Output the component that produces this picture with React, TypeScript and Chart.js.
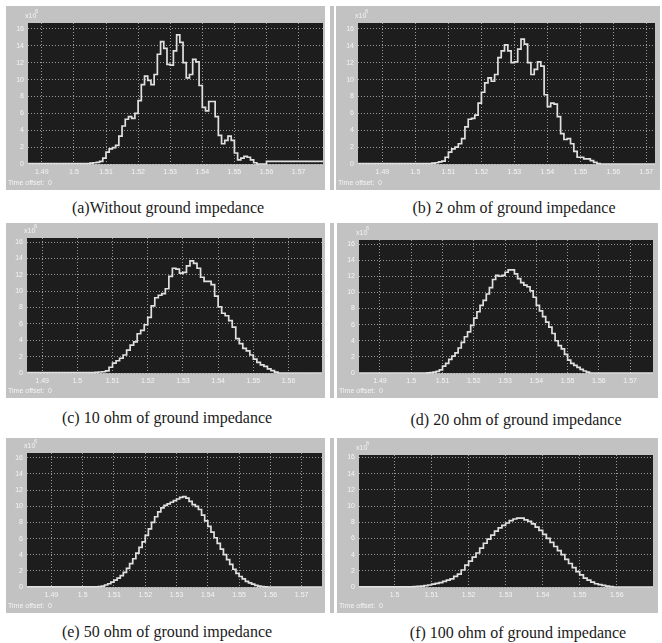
import React, { useEffect, useRef } from 'react';
import { Chart, registerables } from 'chart.js';
Chart.register(...registerables);

// sample instants (s)
const TIMES = [
  1.505, 1.506, 1.507, 1.508, 1.509, 1.51, 1.511, 1.512, 1.513, 1.514,
  1.515, 1.516, 1.517, 1.518, 1.519, 1.52, 1.521, 1.522, 1.523, 1.524,
  1.525, 1.526, 1.527, 1.528, 1.529, 1.53, 1.531, 1.532, 1.533, 1.534,
  1.535, 1.536, 1.537, 1.538, 1.539, 1.54, 1.541, 1.542, 1.543, 1.544,
  1.545, 1.546, 1.547, 1.548, 1.549, 1.55, 1.551, 1.552, 1.553, 1.554,
  1.555, 1.556, 1.557, 1.558, 1.559, 1.56, 1.561,
];
const EDGE_LEFT = 1.48;
const EDGE_RIGHT = 1.6;

// values in units of 10^6
const SERIES_A = [
  0.05, 0.1, 0.15, 0.2, 0.3, 0.7, 1.4, 1.8, 1.95, 2.2,
  3.3, 4.5, 5.3, 5.6, 5.4, 6.0, 7.5, 9.4, 10.4, 9.9,
  9.4, 10.6, 13.0, 14.5, 13.7, 11.8, 11.7, 13.4, 15.3, 14.4,
  12.0, 10.2, 10.6, 12.4, 12.1, 9.3, 6.7, 6.3, 7.4, 7.4,
  5.6, 3.4, 2.4, 2.8, 3.3, 2.8, 1.3, 0.5, 0.7, 0.9,
  0.8, 0.5, 0.15, 0, 0, 0, 0.3,
];
const SERIES_B = [
  0.05, 0.1, 0.15, 0.25, 0.35, 0.8, 1.4, 1.8, 2.0, 2.4,
  3.0, 4.4, 5.3, 5.4, 5.8, 7.2, 8.5, 9.6, 10.2, 9.8,
  10.6, 12.6, 13.4, 14.1, 13.4, 12.0, 12.1, 13.6, 14.8, 14.2,
  12.0, 10.6, 11.2, 12.1, 11.6, 8.2, 6.8, 7.2, 7.1, 5.6,
  3.6, 2.9, 3.0, 2.4, 1.5, 0.8, 0.8, 0.6, 0.6, 0.4,
  0.2, 0.05, 0, 0, 0, 0, 0,
];
const SERIES_C = [
  0.05, 0.08, 0.12, 0.15, 0.25, 0.7, 1.2, 1.5, 1.8, 2.2,
  2.8, 3.4, 3.8, 4.8, 5.2, 5.9, 6.8, 8.2, 9.2, 9.5,
  9.7, 10.3, 11.8, 12.8, 12.7, 12.2, 12.3, 13.1, 13.7, 13.4,
  12.8, 11.7, 11.2, 11.2, 10.8, 9.4, 8.1, 7.3, 7.0, 6.4,
  5.6, 4.2, 3.6, 3.0, 2.7, 2.2, 1.7, 1.3, 1.0, 0.8,
  0.5, 0.3, 0.1, 0, 0, 0, 0,
];
const SERIES_D = [
  0, 0.02, 0.05, 0.1, 0.2, 0.4, 0.85, 1.2, 1.7, 2.1,
  2.5, 3.1, 3.8, 4.5, 5.1, 5.9, 6.8, 7.6, 8.4, 9.0,
  9.8, 10.6, 11.6, 12.1, 12.0, 12.1, 12.5, 12.8, 12.8, 12.3,
  11.7, 11.2, 10.9, 10.7, 10.2, 9.4, 8.4, 7.7, 7.0, 6.3,
  5.7, 4.9, 4.0, 3.4, 3.0, 2.3, 1.6, 1.2, 0.95, 0.7,
  0.45, 0.25, 0.1, 0, 0, 0, 0,
];
const SERIES_E = [
  0.02, 0.05, 0.1, 0.25, 0.4, 0.6, 0.85, 1.1, 1.4, 1.8,
  2.3, 2.9, 3.5, 4.2, 4.9, 5.6, 6.4, 7.2, 8.0, 8.7,
  9.3, 9.8, 10.1, 10.3, 10.5, 10.7, 10.9, 11.1, 11.2, 11.0,
  10.6, 10.2, 10.0, 9.6, 8.9, 8.2, 7.5, 6.8, 6.1, 5.4,
  4.7, 4.0, 3.4, 2.8, 2.2, 1.7, 1.3, 1.0, 0.7, 0.5,
  0.35, 0.2, 0.12, 0.06, 0.02, 0, 0,
];
const SERIES_F = [
  0.02, 0.04, 0.08, 0.12, 0.17, 0.25, 0.35, 0.45, 0.55, 0.7,
  0.85, 1.0, 1.3, 1.6, 2.1, 2.7, 3.2, 3.7, 4.2, 4.8,
  5.4, 5.9, 6.4, 6.9, 7.3, 7.6, 7.9, 8.2, 8.4, 8.5,
  8.5, 8.3, 8.1, 7.8, 7.4, 7.0, 6.5, 6.0, 5.5, 5.0,
  4.5, 4.0, 3.4, 2.9, 2.4, 1.9, 1.5, 1.1, 0.85, 0.6,
  0.4, 0.3, 0.2, 0.12, 0.05, 0, 0,
];

const X_TICKS_FULL = [1.49, 1.5, 1.51, 1.52, 1.53, 1.54, 1.55, 1.56, 1.57];
const X_TICKS_C = [1.49, 1.5, 1.51, 1.52, 1.53, 1.54, 1.55, 1.56];
const X_TICKS_F = [1.5, 1.51, 1.52, 1.53, 1.54, 1.55, 1.56];
const Y_TICKS = [0, 2, 4, 6, 8, 10, 12, 14, 16];

const CAPTION_A = '(a)Without ground impedance';
const CAPTION_B = '(b) 2 ohm of ground impedance';
const CAPTION_C = '(c) 10 ohm of ground impedance';
const CAPTION_D = '(d) 20 ohm of ground impedance';
const CAPTION_E = '(e) 50 ohm of ground impedance';
const CAPTION_F = '(f) 100 ohm of ground impedance';

const GRAY = '#c2c2c2';
const DARK = '#1d1d1d';
const LABEL = '#f4f4f4';
const GRID = '#9a9a9a';
const SANS = '"Liberation Sans", Arial, sans-serif';

const PANELS = [
  { series: SERIES_A, xticks: X_TICKS_FULL, caption: CAPTION_A, box: [6, 6, 319, 184], m: [22, 17, 2, 26], x: [1.4857, 1.5776], ymax: 16.7, cap: [168, 208] },
  { series: SERIES_B, xticks: X_TICKS_FULL, caption: CAPTION_B, box: [336, 6, 324, 184], m: [22, 17, 5, 26], x: [1.4826, 1.5726], ymax: 16.7, cap: [514, 208], strip: true },
  { series: SERIES_C, xticks: X_TICKS_C, caption: CAPTION_C, box: [6, 223, 319, 175], m: [21, 15, 3, 25], x: [1.4857, 1.5695], ymax: 16.5, cap: [167, 418] },
  { series: SERIES_D, xticks: X_TICKS_FULL, caption: CAPTION_D, box: [337, 223, 321, 175], m: [22, 17, 5, 25], x: [1.4833, 1.5773], ymax: 16.5, cap: [516, 420], strip: true },
  { series: SERIES_E, xticks: X_TICKS_FULL, caption: CAPTION_E, box: [6, 438, 319, 175], m: [21, 15, 3, 26], x: [1.4822, 1.5765], ymax: 16.6, cap: [167, 632] },
  { series: SERIES_F, xticks: X_TICKS_F, caption: CAPTION_F, box: [337, 438, 321, 175], m: [22, 17, 5, 26], x: [1.4904, 1.5698], ymax: 16.3, cap: [518, 633], strip: true },
];

const scopePlugin = {
  id: 'scope',
  beforeDraw(chart: any) {
    const { ctx, chartArea: a } = chart;
    ctx.save();
    ctx.fillStyle = DARK;
    ctx.fillRect(a.left, a.top, a.right - a.left, a.bottom - a.top);
    ctx.restore();
  },
  afterDraw(chart: any) {
    const { ctx, chartArea: a, height } = chart;
    ctx.save();
    ctx.fillStyle = LABEL;
    ctx.textBaseline = 'middle';
    ctx.textAlign = 'left';
    ctx.font = `7px ${SANS}`;
    ctx.fillText('x10', a.left - 3, a.top - 7);
    ctx.font = `6px ${SANS}`;
    ctx.fillText('6', a.left + 7, a.top - 12);
    ctx.font = `7px ${SANS}`;
    ctx.fillText('Time offset:  0', 2, height - 7);
    ctx.restore();
  },
};

function Panel({ p }: { p: any }) {
  const ref = useRef<HTMLCanvasElement>(null);
  useEffect(() => {
    if (!ref.current) return;
    const [L, T, R, B] = p.m;
    const pts = [{ x: EDGE_LEFT, y: 0 }];
    TIMES.forEach((t, i) => pts.push({ x: t, y: p.series[i] }));
    pts.push({ x: EDGE_RIGHT, y: p.series[p.series.length - 1] });
    const chart = new Chart(ref.current, {
      type: 'line',
      data: {
        datasets: [
          {
            data: pts,
            stepped: 'after',
            borderColor: '#e0e0e0',
            borderWidth: 1.7,
            pointRadius: 0,
            fill: false,
            clip: { left: 0, top: 0, right: 0, bottom: 2 } as any,
          },
        ],
      },
      options: {
        animation: false,
        responsive: false,
        devicePixelRatio: 1,
        layout: { padding: { left: 0, top: T, right: R, bottom: 0 } },
        plugins: { legend: { display: false }, tooltip: { enabled: false } },
        scales: {
          x: {
            type: 'linear',
            min: p.x[0],
            max: p.x[1],
            afterBuildTicks: (s: any) => { s.ticks = p.xticks.map((v: number) => ({ value: v })); },
            afterFit: (s: any) => { s.height = B; },
            ticks: {
              color: LABEL,
              font: { size: 7, family: SANS },
              padding: 4,
              maxRotation: 0,
              autoSkip: false,
              callback: (v: any) => String(Number(Number(v).toFixed(2))),
            },
            grid: { color: GRID, lineWidth: 1, drawTicks: false, tickLength: 0 },
            border: { display: false, dash: [1, 2] },
          },
          y: {
            type: 'linear',
            min: 0,
            max: p.ymax,
            afterBuildTicks: (s: any) => { s.ticks = Y_TICKS.map((v) => ({ value: v })); },
            afterFit: (s: any) => { s.width = L; },
            ticks: {
              color: LABEL,
              font: { size: 7, family: SANS },
              padding: 4,
              autoSkip: false,
              callback: (v: any) => String(v),
            },
            grid: { color: GRID, lineWidth: 1, drawTicks: false, tickLength: 0 },
            border: { display: false, dash: [1, 2] },
          },
        },
      },
      plugins: [scopePlugin],
    } as any);
    return () => chart.destroy();
  }, [p]);
  const [left, top, w, h] = p.box;
  return (
    <>
      {p.strip && (
        <div style={{ position: 'absolute', left: 330, top, width: 4, height: h, background: GRAY }} />
      )}
      <div style={{ position: 'absolute', left, top, width: w, height: h, background: GRAY }}>
        <canvas ref={ref} width={w} height={h} style={{ display: 'block', width: w, height: h }} />
      </div>
      <div
        style={{
          position: 'absolute',
          left: p.cap[0] - 200,
          top: p.cap[1] - 10,
          width: 400,
          height: 20,
          lineHeight: '20px',
          textAlign: 'center',
          fontFamily: '"Liberation Serif", "Times New Roman", serif',
          fontSize: 16,
          color: '#1a1a1a',
          whiteSpace: 'nowrap',
        }}
      >
        {p.caption}
      </div>
    </>
  );
}

export default function App() {
  return (
    <div style={{ position: 'absolute', left: 0, top: 0, width: 662, height: 643, background: '#ffffff', overflow: 'hidden' }}>
      {PANELS.map((p, i) => (
        <Panel key={i} p={p} />
      ))}
    </div>
  );
}
